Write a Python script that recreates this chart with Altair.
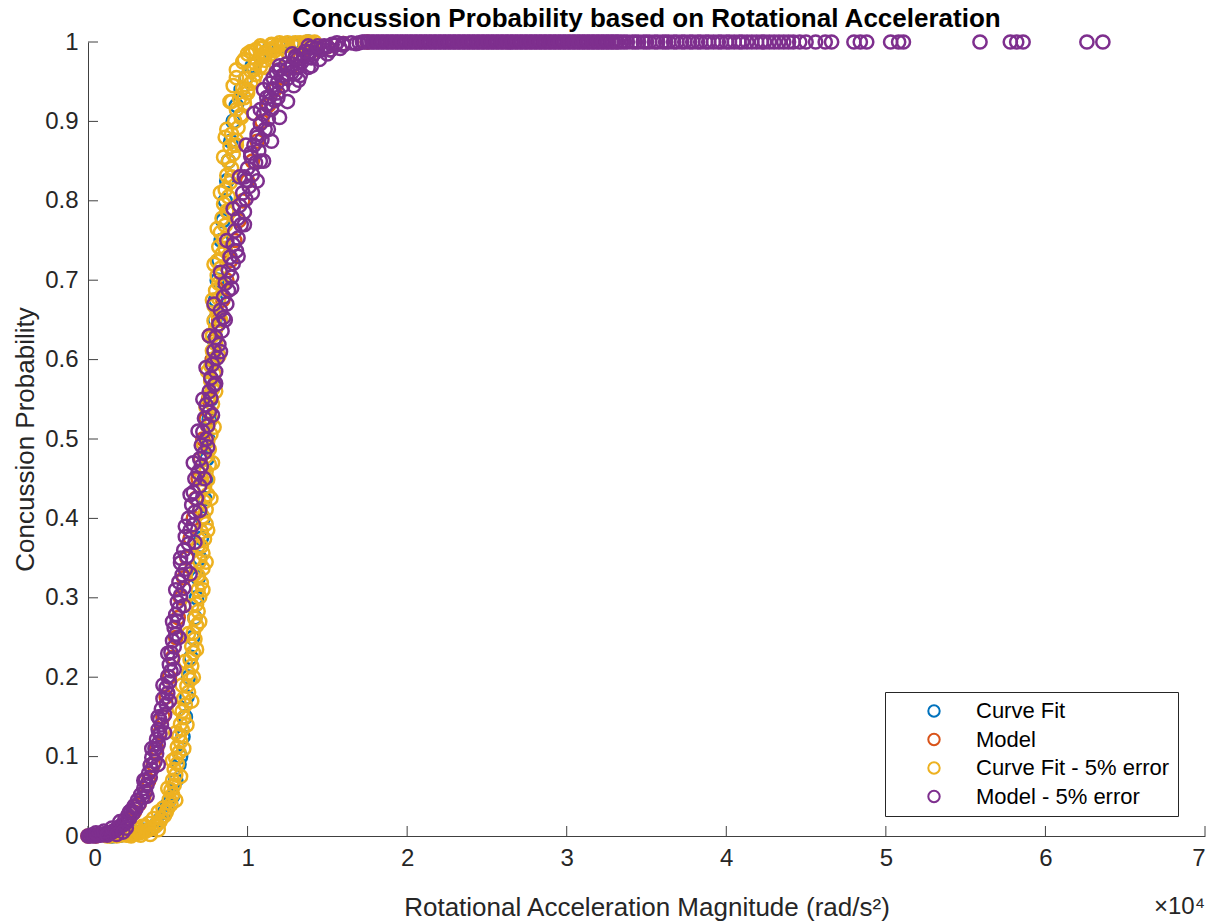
import altair as alt
import pandas as pd

FONT = "Liberation Sans"

series_names = ["Curve Fit", "Model", "Curve Fit - 5% error", "Model - 5% error"]
series_colors = ["#0072BD", "#D95319", "#EDB120", "#7E2F8E"]

x_ticks = [0, 1, 2, 3, 4, 5, 6, 7]
y_ticks = [0, 0.1, 0.2, 0.3, 0.4, 0.5, 0.6, 0.7, 0.8, 0.9, 1]

# Curve Fit (x in units of 10^4 rad/s^2)
cf_x = [0.15, 0.20, 0.25, 0.30, 0.35, 0.40, 0.43, 0.45, 0.48, 0.50,
        0.53, 0.55, 0.57, 0.58, 0.595, 0.61, 0.62, 0.63, 0.645, 0.655,
        0.67, 0.68, 0.69, 0.70, 0.71, 0.72, 0.73, 0.74, 0.745, 0.75,
        0.76, 0.77, 0.775, 0.78, 0.79, 0.795, 0.80, 0.81, 0.82, 0.835,
        0.845, 0.86, 0.87, 0.88, 0.895, 0.91, 0.93, 0.96, 0.99, 1.03,
        1.08, 1.13, 1.20, 1.28, 1.38]
cf_y = [0.000, 0.001, 0.002, 0.004, 0.007, 0.010, 0.015, 0.020, 0.030, 0.040,
        0.050, 0.070, 0.090, 0.100, 0.125, 0.150, 0.175, 0.200, 0.225, 0.250,
        0.275, 0.300, 0.325, 0.350, 0.375, 0.400, 0.425, 0.450, 0.475, 0.500,
        0.525, 0.550, 0.575, 0.600, 0.625, 0.650, 0.675, 0.700, 0.725, 0.750,
        0.775, 0.800, 0.825, 0.850, 0.875, 0.900, 0.920, 0.940, 0.955, 0.970,
        0.982, 0.990, 0.995, 0.998, 1.000]

# Model
model_x = [0.00, 0.05, 0.10, 0.15, 0.20, 0.25, 0.29, 0.32, 0.35, 0.38,
           0.41, 0.43, 0.45, 0.47, 0.49, 0.51, 0.53, 0.55, 0.565, 0.58,
           0.60, 0.62, 0.64, 0.66, 0.675, 0.69, 0.705, 0.72, 0.74, 0.755,
           0.77, 0.78, 0.80, 0.82, 0.845, 0.87, 0.895, 0.92, 0.945, 0.97,
           1.00, 1.03, 1.06, 1.09, 1.13, 1.17, 1.22, 1.27, 1.33, 1.40,
           1.50, 1.60, 1.75]
model_y = [0.000, 0.000, 0.002, 0.005, 0.011, 0.020, 0.030, 0.040, 0.050, 0.070,
           0.090, 0.110, 0.130, 0.150, 0.175, 0.200, 0.225, 0.250, 0.275, 0.300,
           0.325, 0.350, 0.375, 0.400, 0.425, 0.450, 0.475, 0.500, 0.525, 0.550,
           0.575, 0.600, 0.625, 0.650, 0.675, 0.700, 0.725, 0.750, 0.775, 0.800,
           0.825, 0.850, 0.875, 0.900, 0.920, 0.940, 0.955, 0.968, 0.980, 0.988,
           0.994, 0.998, 1.000]

# Curve Fit - 5% error
cfe_x = [0.12, 0.14, 0.16, 0.18, 0.20, 0.22, 0.24, 0.26, 0.28, 0.30,
         0.32, 0.34, 0.36, 0.38, 0.40, 0.42, 0.43, 0.45, 0.46, 0.48,
         0.49, 0.50, 0.52, 0.51, 0.53, 0.52, 0.54, 0.53, 0.55, 0.54,
         0.56, 0.55, 0.57, 0.56, 0.58, 0.57, 0.59, 0.58, 0.60, 0.59,
         0.61, 0.60, 0.63, 0.62, 0.64, 0.63, 0.65, 0.64, 0.66, 0.65,
         0.67, 0.66, 0.68, 0.67, 0.69, 0.68, 0.70, 0.69, 0.71, 0.69,
         0.72, 0.70, 0.72, 0.71, 0.73, 0.71, 0.74, 0.72, 0.74, 0.73,
         0.75, 0.73, 0.75, 0.74, 0.76, 0.74, 0.76, 0.75, 0.77, 0.75,
         0.77, 0.76, 0.78, 0.76, 0.78, 0.77, 0.79, 0.77, 0.79, 0.78,
         0.80, 0.78, 0.80, 0.79, 0.81, 0.79, 0.82, 0.80, 0.82, 0.81,
         0.83, 0.81, 0.84, 0.82, 0.85, 0.83, 0.86, 0.84, 0.87, 0.85,
         0.88, 0.86, 0.89, 0.87, 0.90, 0.88, 0.91, 0.89, 0.93, 0.90,
         0.94, 0.92, 0.96, 0.93, 0.98, 0.95, 1.00, 0.97, 1.02, 0.99,
         1.05, 1.02, 1.08, 1.05, 1.11, 1.08, 1.14, 1.11, 1.17, 1.14,
         1.21, 1.18, 1.25, 1.22, 1.29, 1.33, 1.37, 1.42, 1.00, 1.05,
         1.10, 1.15, 1.25, 1.32,
         0.36, 0.44, 0.47, 0.55, 0.50, 0.58, 0.53, 0.60, 0.55, 0.62,
         0.57, 0.65, 0.59, 0.66, 0.61, 0.68, 0.63, 0.70, 0.65, 0.72,
         0.67, 0.74, 0.69, 0.75, 0.70, 0.77, 0.71, 0.78, 0.72, 0.79,
         0.74, 0.80, 0.75, 0.82, 0.76, 0.83, 0.78, 0.84, 0.79, 0.86,
         0.81, 0.88, 0.83, 0.90, 0.85, 0.93, 0.87, 0.96, 0.90, 1.00,
         0.93, 1.04, 0.97, 1.10, 1.02, 1.16, 1.08, 1.22, 1.30, 1.38,
         0.91, 1.04, 0.93, 1.10, 0.98, 1.18, 1.03, 1.25, 1.08, 1.30,
         1.15, 1.36, 1.20, 1.40, 0.89, 0.98, 0.86, 0.92,
         0.18, 0.24, 0.30, 0.34, 0.38, 0.41, 0.44, 0.27, 0.33, 0.39]
cfe_y = [0.000, 0.000, 0.001, 0.000, 0.001, 0.002, 0.001, 0.002, 0.003, 0.003,
         0.004, 0.005, 0.006, 0.008, 0.010, 0.012, 0.015, 0.018, 0.022, 0.026,
         0.030, 0.035, 0.040, 0.046, 0.052, 0.058, 0.064, 0.070, 0.077, 0.084,
         0.091, 0.098, 0.105, 0.112, 0.119, 0.126, 0.134, 0.141, 0.149, 0.157,
         0.165, 0.173, 0.181, 0.189, 0.197, 0.205, 0.214, 0.222, 0.231, 0.239,
         0.248, 0.256, 0.265, 0.274, 0.283, 0.292, 0.301, 0.310, 0.319, 0.328,
         0.337, 0.346, 0.356, 0.365, 0.374, 0.383, 0.393, 0.402, 0.411, 0.421,
         0.430, 0.440, 0.449, 0.459, 0.468, 0.478, 0.487, 0.497, 0.506, 0.516,
         0.525, 0.535, 0.544, 0.554, 0.563, 0.573, 0.582, 0.592, 0.601, 0.611,
         0.620, 0.630, 0.639, 0.649, 0.658, 0.668, 0.677, 0.687, 0.696, 0.706,
         0.715, 0.724, 0.733, 0.742, 0.751, 0.760, 0.769, 0.778, 0.787, 0.796,
         0.805, 0.814, 0.823, 0.832, 0.841, 0.850, 0.859, 0.868, 0.876, 0.884,
         0.892, 0.900, 0.908, 0.915, 0.922, 0.929, 0.936, 0.942, 0.948, 0.954,
         0.959, 0.964, 0.969, 0.973, 0.977, 0.981, 0.984, 0.987, 0.989, 0.991,
         0.993, 0.995, 0.996, 0.997, 0.998, 0.999, 1.000, 1.000, 0.985, 0.990,
         0.993, 0.996, 0.999, 0.998,
         0.012, 0.008, 0.035, 0.045, 0.060, 0.075, 0.095, 0.110, 0.130, 0.140,
         0.160, 0.170, 0.190, 0.200, 0.220, 0.235, 0.255, 0.270, 0.290, 0.310,
         0.330, 0.345, 0.365, 0.385, 0.410, 0.425, 0.450, 0.470, 0.495, 0.515,
         0.540, 0.560, 0.585, 0.605, 0.630, 0.650, 0.675, 0.695, 0.720, 0.740,
         0.765, 0.785, 0.810, 0.830, 0.855, 0.870, 0.890, 0.905, 0.925, 0.940,
         0.955, 0.965, 0.975, 0.982, 0.988, 0.992, 0.995, 0.997, 0.999, 1.000,
         0.945, 0.952, 0.965, 0.968, 0.978, 0.980, 0.986, 0.988, 0.992, 0.994,
         0.997, 0.997, 0.999, 0.999, 0.925, 0.930, 0.880, 0.870,
         0.004, 0.006, 0.008, 0.012, 0.016, 0.022, 0.030, 0.000, 0.001, 0.002]

# Model - 5% error (rising part)
me_x = [0.00, 0.01, 0.02, 0.03, 0.04, 0.05, 0.06, 0.07, 0.08, 0.09,
        0.10, 0.11, 0.12, 0.13, 0.14, 0.15, 0.16, 0.17, 0.18, 0.19,
        0.20,
        0.22, 0.24, 0.23, 0.26, 0.25, 0.28, 0.27, 0.30, 0.29, 0.32,
        0.31, 0.34, 0.33, 0.36, 0.35, 0.37, 0.36, 0.39, 0.38, 0.40,
        0.39, 0.42, 0.40, 0.43, 0.42, 0.44, 0.43, 0.45, 0.44, 0.46,
        0.45, 0.48, 0.46, 0.49, 0.47, 0.50, 0.49, 0.51, 0.50, 0.52,
        0.51, 0.53, 0.52, 0.54, 0.53, 0.55, 0.54, 0.56, 0.55, 0.57,
        0.56, 0.58,
        0.60, 0.57, 0.59, 0.61, 0.58, 0.62, 0.60, 0.63, 0.61, 0.64,
        0.66, 0.63, 0.67, 0.65, 0.68, 0.66, 0.70, 0.67, 0.69, 0.71,
        0.70, 0.73, 0.71, 0.74, 0.72, 0.75, 0.73, 0.76, 0.74, 0.77,
        0.76, 0.79, 0.77, 0.80, 0.78, 0.81, 0.79, 0.82, 0.80, 0.84,
        0.82, 0.85, 0.83, 0.87, 0.85, 0.88, 0.86, 0.90, 0.88, 0.91,
        0.89, 0.93, 0.91, 0.94, 0.92, 0.96, 0.94, 0.98, 0.95, 0.99,
        0.97, 1.01, 0.99, 1.03, 1.00, 1.05, 1.02, 1.07, 1.04, 1.09,
        1.06, 1.11, 1.08, 1.13, 1.10, 1.15, 1.12, 1.17, 1.14, 1.19,
        1.16, 1.22, 1.19, 1.25, 1.22, 1.28, 1.25, 1.31, 1.28, 1.34,
        1.31, 1.38, 1.35, 1.42, 1.39, 1.46, 1.43, 1.50, 1.48, 1.55,
        1.53, 1.60, 1.65, 1.70,
        1.14, 1.32, 1.20, 1.40, 1.30, 1.50, 1.40, 1.58,
        0.26, 0.37, 0.35, 0.44, 0.40, 0.48, 0.44, 0.51, 0.47, 0.54,
        0.50, 0.57, 0.53, 0.60, 0.55, 0.64, 0.58, 0.67, 0.61, 0.70,
        0.64, 0.73, 0.66, 0.75, 0.69, 0.78, 0.72, 0.80, 0.74, 0.83,
        0.76, 0.86, 0.79, 0.90, 0.83, 0.94, 0.87, 0.98, 0.91, 1.03,
        0.95, 1.08, 0.99, 1.13, 1.04, 1.19, 1.10, 1.30, 1.20, 1.40,
        1.28, 1.52, 1.38,
        1.16, 1.29, 1.18, 1.33, 1.24, 1.38, 1.30, 1.45, 1.36, 1.52,
        1.44, 1.60, 1.08, 1.20, 1.06, 1.15, 1.02, 1.10, 0.98, 1.06,
        1.12, 1.25, 1.68, 1.56,
        0.05, 0.10, 0.15, 0.20, 0.24, 0.12, 0.18, 0.22]
me_y = [0.000, 0.000, 0.001, 0.000, 0.001, 0.000, 0.001, 0.002, 0.001, 0.002,
        0.002, 0.003, 0.003, 0.004, 0.004, 0.005, 0.006, 0.007, 0.009, 0.010,
        0.012,
        0.014, 0.017, 0.020, 0.022, 0.026, 0.028, 0.032, 0.034, 0.038, 0.041,
        0.045, 0.048, 0.052, 0.056, 0.060, 0.065, 0.070, 0.074, 0.079, 0.084,
        0.089, 0.094, 0.099, 0.104, 0.110, 0.116, 0.122, 0.128, 0.134, 0.140,
        0.147, 0.153, 0.160, 0.166, 0.173, 0.180, 0.187, 0.194, 0.201, 0.208,
        0.216, 0.223, 0.231, 0.238, 0.246, 0.254, 0.262, 0.270, 0.279, 0.287,
        0.295, 0.303,
        0.312, 0.320, 0.329, 0.336, 0.344, 0.352, 0.360, 0.368, 0.377, 0.385,
        0.392, 0.400, 0.408, 0.417, 0.425, 0.433, 0.441, 0.450, 0.458, 0.466,
        0.475, 0.483, 0.492, 0.500, 0.509, 0.517, 0.526, 0.534, 0.543, 0.551,
        0.560, 0.568, 0.577, 0.585, 0.594, 0.602, 0.611, 0.619, 0.628, 0.636,
        0.645, 0.653, 0.662, 0.670, 0.679, 0.687, 0.696, 0.704, 0.712, 0.721,
        0.729, 0.737, 0.745, 0.753, 0.762, 0.770, 0.778, 0.786, 0.794, 0.802,
        0.810, 0.818, 0.826, 0.833, 0.841, 0.848, 0.856, 0.863, 0.870, 0.877,
        0.884, 0.890, 0.897, 0.903, 0.909, 0.915, 0.921, 0.926, 0.931, 0.936,
        0.941, 0.945, 0.950, 0.954, 0.958, 0.962, 0.966, 0.969, 0.972, 0.975,
        0.978, 0.981, 0.984, 0.986, 0.988, 0.990, 0.992, 0.994, 0.995, 0.996,
        0.997, 0.998, 0.999, 0.999,
        0.948, 0.952, 0.965, 0.970, 0.982, 0.985, 0.993, 0.992,
        0.030, 0.050, 0.070, 0.090, 0.110, 0.130, 0.150, 0.170, 0.190, 0.210,
        0.230, 0.250, 0.270, 0.290, 0.310, 0.330, 0.350, 0.370, 0.390, 0.410,
        0.430, 0.450, 0.470, 0.490, 0.510, 0.530, 0.550, 0.570, 0.590, 0.610,
        0.630, 0.650, 0.670, 0.690, 0.710, 0.730, 0.750, 0.770, 0.790, 0.810,
        0.830, 0.850, 0.870, 0.890, 0.910, 0.930, 0.940, 0.960, 0.970, 0.980,
        0.985, 0.990, 0.995,
        0.955, 0.945, 0.962, 0.958, 0.972, 0.968, 0.980, 0.978, 0.988, 0.990,
        0.995, 0.996, 0.915, 0.905, 0.880, 0.875, 0.860, 0.850, 0.830, 0.825,
        0.930, 0.925, 0.998, 0.999,
        0.004, 0.006, 0.010, 0.018, 0.010, 0.001, 0.002, 0.005]

# Model - 5% error: saturated points (probability 1)
tail_x = [1.72, 1.73, 1.75, 1.76, 1.78, 1.79, 1.81, 1.82, 1.84, 1.85, 1.87, 1.88, 1.90, 1.91, 1.93, 1.94, 1.96, 1.97, 1.99,
          2.00, 2.02, 2.03, 2.05, 2.06, 2.08, 2.09, 2.11, 2.12, 2.14, 2.15, 2.17, 2.18, 2.20, 2.21, 2.23, 2.24, 2.26, 2.27, 2.29,
          2.30, 2.32, 2.33, 2.35, 2.36, 2.38, 2.39, 2.41, 2.42, 2.44, 2.45, 2.47, 2.48, 2.50, 2.51, 2.53, 2.54, 2.56, 2.57, 2.59,
          2.60, 2.62, 2.63, 2.65, 2.66, 2.68, 2.69, 2.71, 2.72, 2.74, 2.75, 2.77, 2.78, 2.80, 2.81, 2.83, 2.84, 2.86, 2.87, 2.89,
          2.90, 2.92, 2.93, 2.95, 2.96, 2.98, 2.99, 3.01, 3.02, 3.04, 3.05, 3.07, 3.08, 3.10, 3.11, 3.13, 3.14, 3.16, 3.17, 3.19,
          3.20, 3.22, 3.23, 3.25, 3.26, 3.28, 3.29, 3.31, 3.32, 3.34,
          3.36, 3.38, 3.41, 3.43, 3.45, 3.48, 3.50, 3.52, 3.55, 3.57, 3.60, 3.62, 3.64, 3.67, 3.69, 3.72, 3.74, 3.77,
          3.79, 3.82, 3.84, 3.87, 3.89, 3.92, 3.95, 3.97, 4.00, 4.02, 4.05, 4.08, 4.10, 4.13, 4.16, 4.19, 4.22, 4.24,
          4.27, 4.30, 4.33, 4.36, 4.39, 4.42, 4.46,
          4.50, 4.56, 4.62, 4.66, 4.80, 4.84, 4.88, 5.03, 5.08, 5.11, 5.59, 5.78, 5.82, 5.86, 6.26, 6.36]
tail_y = [1.0 for _ in tail_x]

rows = []
for name, xs, ys in [
    ("Curve Fit", cf_x, cf_y),
    ("Model", model_x, model_y),
    ("Curve Fit - 5% error", cfe_x, cfe_y),
    ("Model - 5% error", me_x + tail_x, me_y + tail_y),
]:
    for xv, yv in zip(xs, ys):
        rows.append({"x": xv, "y": yv, "series": name})
df = pd.DataFrame(rows)

W, H = 1117, 794
AX = "#404040"
TXT = "#262626"

x_scale = alt.Scale(domain=[0, 7], nice=False, zero=False)
y_scale = alt.Scale(domain=[0, 1], nice=False, zero=False)

x_axis = alt.Axis(values=x_ticks, title="Rotational Acceleration Magnitude (rad/s²)",
                  labelPadding=10, titlePadding=24, format="d")
y_axis = alt.Axis(values=y_ticks, title="Concussion Probability", format="~g",
                  labelPadding=10, titlePadding=6)

points = alt.Chart(df).mark_point(
    shape="circle", filled=False, size=175, strokeWidth=2.5, opacity=1
).encode(
    x=alt.X("x:Q", scale=x_scale, axis=x_axis),
    y=alt.Y("y:Q", scale=y_scale, axis=y_axis),
    color=alt.Color(
        "series:N",
        scale=alt.Scale(domain=series_names, range=series_colors),
        legend=alt.Legend(
            title=None, orient="none", legendX=797, legendY=650,
            padding=8, strokeColor=TXT, fillColor="white",
            labelFont=FONT, labelFontSize=22, labelColor="black", labelLimit=400,
            symbolType="circle", symbolSize=130, symbolStrokeWidth=2,
            symbolOffset=30, labelOffset=31, rowPadding=6.5,
        ),
    ),
)

xt = alt.Chart(pd.DataFrame({"x": x_ticks})).mark_rule(color=AX, strokeWidth=1).encode(
    x=alt.X("x:Q", scale=x_scale, axis=x_axis),
    y=alt.value(H), y2=alt.value(H - 10),
)
yt = alt.Chart(pd.DataFrame({"y": y_ticks})).mark_rule(color=AX, strokeWidth=1).encode(
    y=alt.Y("y:Q", scale=y_scale, axis=y_axis),
    x=alt.value(0), x2=alt.value(10),
)
exp_label = alt.Chart(pd.DataFrame({"t": ["×10⁴"]})).mark_text(
    align="right", baseline="alphabetic", font=FONT, fontSize=24, color=TXT
).encode(text="t:N", x=alt.value(W), y=alt.value(H + 78))

chart = alt.layer(xt, yt, points, exp_label).properties(
    width=W, height=H,
    autosize=alt.AutoSizeParams(type="none"),
    padding={"left": 88, "top": 42, "right": 16, "bottom": 85},
    title=alt.TitleParams(
        "Concussion Probability based on Rotational Acceleration",
        font=FONT, fontSize=26, fontWeight="bold", color="black",
        anchor="middle", offset=-2,
    ),
).configure_view(stroke=None).configure_axis(
    grid=False, ticks=False, domainColor=AX, domainWidth=1,
    labelFont=FONT, labelFontSize=24, labelColor=TXT,
    titleFont=FONT, titleFontSize=26, titleFontWeight="normal", titleColor=TXT,
)

chart.save("out.html", embed_options={"renderer": "svg", "actions": False})
